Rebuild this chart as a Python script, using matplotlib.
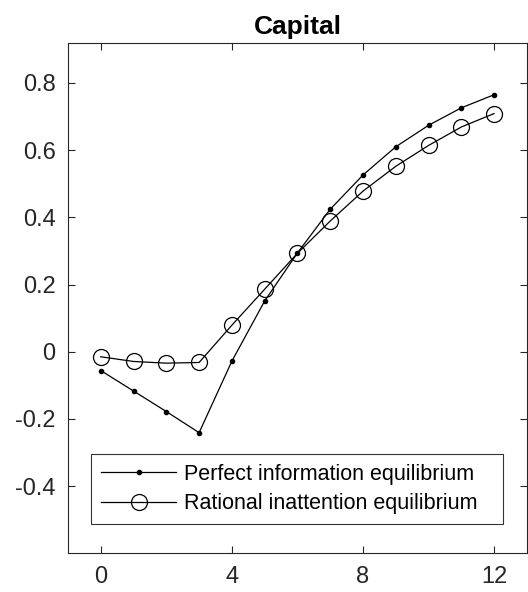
import numpy as np
import matplotlib.pyplot as plt

plt.rcParams['font.family'] = ['Liberation Sans', 'DejaVu Sans']

# Horizonte (periodos) y respuestas del capital
periodos = np.arange(0, 13)
info_perfecta = [-0.056, -0.117, -0.178, -0.241, -0.028, 0.151, 0.294,
                 0.424, 0.526, 0.610, 0.674, 0.726, 0.765]
inatencion = [-0.015, -0.029, -0.034, -0.032, 0.079, 0.186, 0.293,
              0.389, 0.478, 0.552, 0.614, 0.669, 0.709]
xticks = [0, 4, 8, 12]
yticks = [-0.4, -0.2, 0, 0.2, 0.4, 0.6, 0.8]

fig = plt.figure(figsize=(5.28, 5.92), dpi=100)
ax = fig.add_axes([0.1288, 0.0654, 0.869, 0.8625])

ax.plot(periodos, info_perfecta, color='black', lw=0.9, marker='.', ms=6,
        label='Perfect information equilibrium')
ax.plot(periodos, inatencion, color='black', lw=0.9, marker='o', ms=11.5,
        mfc='none', mew=0.9, label='Rational inattention equilibrium')

ax.set_xlim(-1, 13)
ax.set_ylim(-0.6, 0.92)
ax.set_xticks(xticks)
ax.set_yticks(yticks)
ax.set_yticklabels(['-0.4', '-0.2', '0', '0.2', '0.4', '0.6', '0.8'])
ax.tick_params(direction='in', top=True, right=True, length=5, width=0.8,
               labelsize=17, colors='#262626', pad=9)
for s in ax.spines.values():
    s.set_color('#262626')
    s.set_linewidth(0.8)

ax.set_title('Capital', fontsize=19, fontweight='bold', pad=6)
leg = ax.legend(loc='lower left', bbox_to_anchor=(0.051, 0.0574, 0.896, 0.1),
                mode='expand', fontsize=15.5, fancybox=False, edgecolor='black',
                handlelength=3.5, borderpad=0.45, labelspacing=0.4,
                handletextpad=0.35, borderaxespad=0)
leg.get_frame().set_linewidth(0.8)

fig.savefig('out.png', dpi=100)
